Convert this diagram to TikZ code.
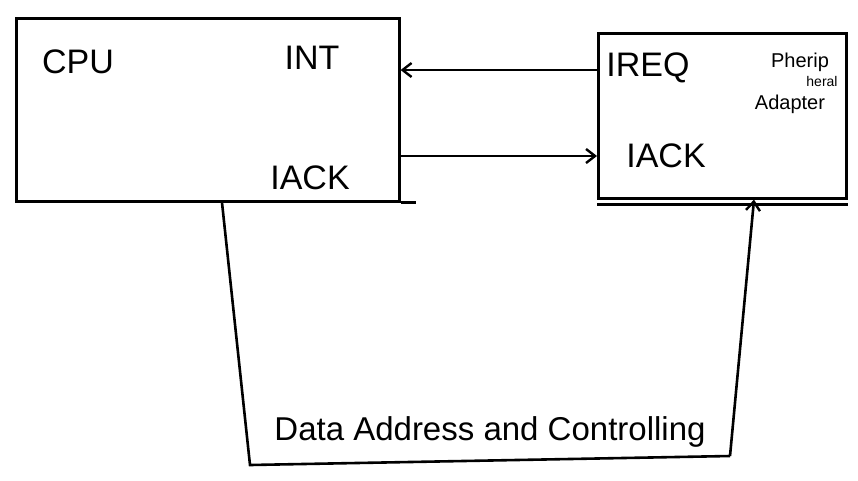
\documentclass[tikz,border=0pt]{standalone}
\usepackage{fontspec}
\setmainfont{Liberation Sans}
\usetikzlibrary{arrows.meta,calc}
\begin{document}
\begin{tikzpicture}[x=1pt,y=-1pt,
  box/.style={draw,line width=2.6pt,inner sep=0pt},
  big/.style={font=\fontsize{34}{36}\selectfont,inner sep=0pt},
  mid/.style={font=\fontsize{33}{35}\selectfont,inner sep=0pt},
  small/.style={font=\fontsize{20}{16}\selectfont,inner sep=0pt,align=left},
  tiny/.style={font=\fontsize{14}{14}\selectfont,inner sep=0pt},
  wire/.style={line width=2.6pt},
  arr/.style={wire,-{Straight Barb[length=9pt,width=14pt,line width=2.4pt]}}]
\useasboundingbox[fill=white] (0,0) rectangle (858,480);
% boxes
\node[box,minimum width=383pt,minimum height=183pt,anchor=north west] (cpu) at (15,17) {};
\node[box,minimum width=248pt,minimum height=165pt,anchor=north west] (per) at (597,32) {};
% texts
\node[big] (cputxt) at (78,62) {CPU};
\node[big] (int) at (312,58) {INT};
\node[big] (iack1) at (310,178) {IACK};
\node[big] (ireq) at (648,68) {IREQ};
\node[big] (iack2) at (666,156) {IACK};
\node[small] (ptxt1) at (800,62) {Pherip};
\node[tiny] (ptxt2) at (822,81) {heral};
\node[small] (ptxt3) at (790,104) {Adapter};
\node[mid] (bus) at (490,432) {Data Address and Controlling};
% signal arrows
\coordinate (a1) at (0,70);
\coordinate (a2) at (0,156);
\draw[arr] (per.west |- a1) -- (cpu.east |- a1);
\draw[arr] (cpu.east |- a2) -- (per.west |- a2);
% extra underline strokes
\draw[wire] (cpu.south east) -- ++(15,0);
\draw[wire] ($(per.south west)+(0,5)$) -- ($(per.south east)+(0,5)$);
% bus
\coordinate (b0) at (222,0);
\coordinate (b1) at (250,465);
\coordinate (b2) at (730,456);
\coordinate (b3) at (754,0);
\draw[wire] (cpu.south -| b0) -- (b1) -- (b2);
\draw[arr] (b2) -- (per.south -| b3);
\end{tikzpicture}
\end{document}
